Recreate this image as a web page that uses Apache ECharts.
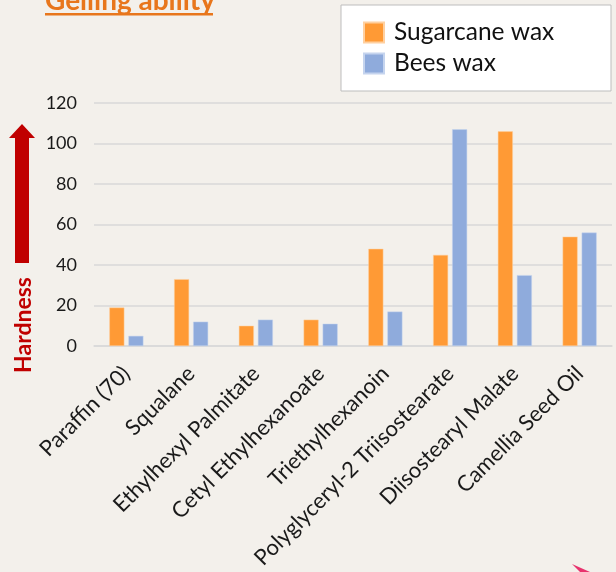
<!DOCTYPE html>
<html>
<head>
<meta charset="utf-8">
<script src="https://cdn.jsdelivr.net/npm/echarts@6/dist/echarts.min.js"></script>
<style>
  html, body { margin: 0; padding: 0; background: #f3f0eb; }
  #chart { width: 616px; height: 572px; }
</style>
</head>
<body>
<div id="chart"></div>
<script>
// oils tested, hardness per wax
const categories = [
  'Paraffin (70)', 'Squalane', 'Ethylhexyl Palmitate', 'Cetyl Ethylhexanoate',
  'Triethylhexanoin', 'Polyglyceryl-2 Triisostearate', 'Diisostearyl Malate', 'Camellia Seed Oil'
];
const sugarcaneWax = [19, 33, 10, 13, 48, 45, 106, 54];
const beesWax = [5, 12, 13, 11, 17, 107, 35, 56];
const yTicks = { min: 0, max: 120, interval: 20 };

const FONT = 'Lato, "Open Sans", sans-serif';
const chart = echarts.init(document.getElementById('chart'), null, { renderer: 'canvas' });

// one legend box per row so the row spacing stays fixed
const legendRow = (name, top) => ({
  left: 363,
  top: top,
  padding: 0,
  itemWidth: 20,
  itemHeight: 20,
  icon: 'rect',
  textStyle: { fontFamily: FONT, fontSize: 24.5, color: '#111', padding: [0, 0, 0, 5] },
  data: [name]
});

chart.setOption({
  backgroundColor: '#f3f0eb',
  textStyle: { fontFamily: FONT },
  grid: { left: 94, right: 4, top: 103, bottom: 226 },
  legend: [legendRow('Sugarcane wax', 20), legendRow('Bees wax', 51)],
  xAxis: {
    type: 'category',
    data: categories,
    axisLine: { lineStyle: { color: '#d9d9d9', width: 1.5 } },
    axisTick: { show: false },
    axisLabel: {
      interval: 0, rotate: 45, fontSize: 22, color: '#1a1a1a', margin: 24,
      fontFamily: FONT
    }
  },
  yAxis: {
    type: 'value',
    min: yTicks.min,
    max: yTicks.max,
    interval: yTicks.interval,
    axisLine: { show: false },
    axisTick: { show: false },
    axisLabel: { fontSize: 18, color: '#1a1a1a', margin: 17, fontFamily: FONT },
    splitLine: { lineStyle: { color: '#d9d9d9', width: 1.5 } }
  },
  series: [
    {
      name: 'Sugarcane wax',
      type: 'bar',
      data: sugarcaneWax,
      barWidth: 15,
      barGap: '27%',
      itemStyle: { color: '#ff9a35', borderColor: '#ffd0a0', borderWidth: 0.5 }
    },
    {
      name: 'Bees wax',
      type: 'bar',
      data: beesWax,
      barWidth: 15,
      itemStyle: { color: '#8fabdc', borderColor: '#c5d4ee', borderWidth: 0.5 }
    }
  ],
  graphic: [
    // legend frame
    {
      type: 'rect', z: -1,
      shape: { x: 341, y: 5, width: 270, height: 86 },
      style: { fill: '#ffffff', stroke: '#bdbdbd', lineWidth: 1 }
    },
    // cut-off heading
    {
      type: 'text', left: 45, top: -13,
      style: { text: 'Gelling ability', fill: '#e8761c', font: 'bold 28px ' + FONT }
    },
    {
      type: 'rect',
      shape: { x: 45, y: 13, width: 168, height: 2.5 },
      style: { fill: '#e8761c' }
    },
    // hardness arrow
    {
      type: 'polygon',
      shape: { points: [[15, 263], [29, 263], [29, 138], [35, 138], [22, 124], [9, 138], [15, 138]] },
      style: { fill: '#c00000' }
    },
    {
      type: 'text', x: 24, y: 325, rotation: Math.PI / 2,
      style: { text: 'Hardness', fill: '#c00000', font: 'bold 23px ' + FONT, align: 'center', verticalAlign: 'middle' }
    },
    // pink pointer peeking in at the corner
    {
      type: 'polygon',
      shape: { points: [[572, 564], [590, 572], [580, 572]] },
      style: { fill: '#e8336e' }
    }
  ]
});
</script>
</body>
</html>
